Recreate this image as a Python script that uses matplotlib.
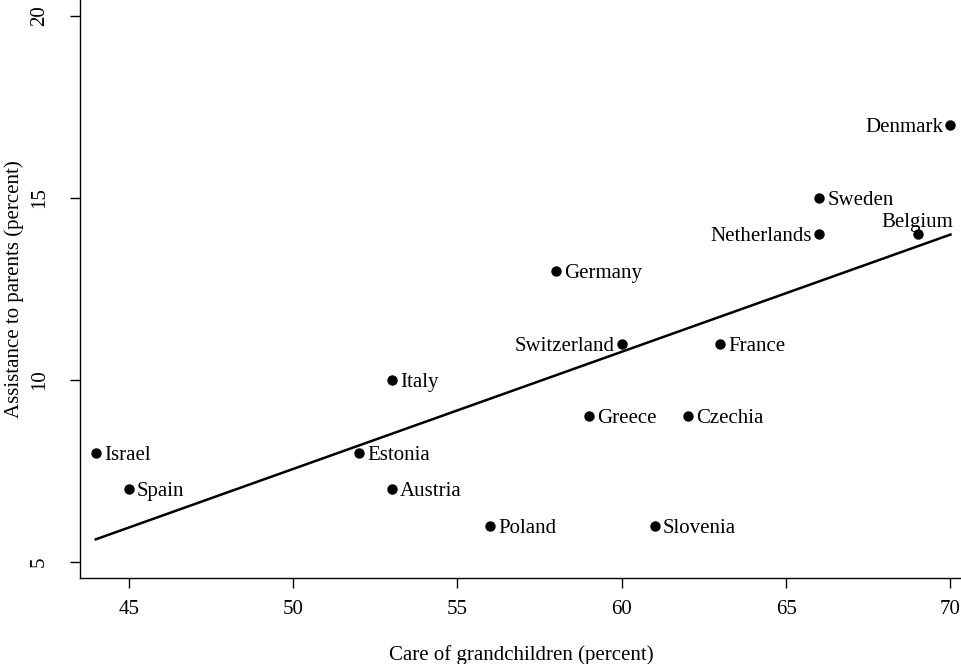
import numpy as np
import matplotlib
matplotlib.use("Agg")
from matplotlib import pyplot as plt

plt.rcParams['font.family'] = ['Liberation Serif', 'DejaVu Serif']

countries = ['Denmark', 'Sweden', 'Netherlands', 'Belgium', 'Germany', 'Switzerland',
             'France', 'Italy', 'Greece', 'Czechia', 'Israel', 'Estonia', 'Spain',
             'Austria', 'Poland', 'Slovenia']
care_grandchildren = [70, 66, 66, 69, 58, 60, 63, 53, 59, 62, 44, 52, 45, 53, 56, 61]
assist_parents = [17, 15, 14, 14, 13, 11, 11, 10, 9, 9, 8, 8, 7, 7, 6, 6]
# label side: 'r' right of point, 'l' left, 't' above
label_side = ['l', 'r', 'l', 't', 'r', 'l', 'r', 'r', 'r', 'r', 'r', 'r', 'r', 'r', 'r', 'r']

x = np.array(care_grandchildren, dtype=float)
y = np.array(assist_parents, dtype=float)

fig = plt.figure(figsize=(9.62, 6.64), dpi=100)
ax = fig.add_axes([80 / 962, 86 / 664, 1 - 80 / 962, 1 - 86 / 664])

ax.scatter(x, y, s=42, c='black', zorder=3)

b, a = np.polyfit(x, y, 1)
xs = np.array([x.min(), x.max()])
ax.plot(xs, a + b * xs, c='black', lw=1.8)

fs = 15
for name, xi, yi, side in zip(countries, x, y, label_side):
    if side == 'r':
        ax.annotate(name, (xi, yi), xytext=(6, 0), textcoords='offset points',
                    ha='left', va='center_baseline', fontsize=fs)
    elif side == 'l':
        ax.annotate(name, (xi, yi), xytext=(-5, 0), textcoords='offset points',
                    ha='right', va='center_baseline', fontsize=fs)
    else:
        ax.annotate(name, (xi, yi), xytext=(0, 2), textcoords='offset points',
                    ha='center', va='bottom', fontsize=fs)

ax.set_xlim(43.52, 70.35)
ax.set_ylim(4.56, 20.44)
ax.set_xticks([45, 50, 55, 60, 65, 70])
ax.set_yticks([5, 10, 15, 20])
for lab in ax.get_yticklabels():
    lab.set_rotation(90)
    lab.set_va('center')
ax.tick_params(axis='both', direction='out', length=7.5, width=1, labelsize=fs)
ax.tick_params(axis='x', pad=8)
ax.tick_params(axis='y', pad=15)
ax.spines['top'].set_visible(False)
ax.spines['right'].set_visible(False)
ax.spines['left'].set_linewidth(1)
ax.spines['bottom'].set_linewidth(1)

ax.set_xlabel('Care of grandchildren (percent)', fontsize=fs, labelpad=19)
ax.set_ylabel('Assistance to parents (percent)', fontsize=fs, labelpad=4)

fig.savefig('out.png', dpi=100)
